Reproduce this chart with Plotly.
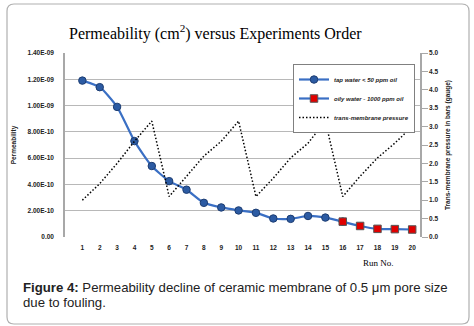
import plotly.graph_objects as go

# Run numbers and measurements
runs_tap = list(range(1, 17))
perm_tap = [1.19e-9, 1.14e-9, 0.99e-9, 7.3e-10, 5.4e-10, 4.25e-10, 3.6e-10, 2.6e-10,
            2.25e-10, 2.02e-10, 1.84e-10, 1.41e-10, 1.38e-10, 1.6e-10, 1.48e-10, 1.17e-10]
runs_oily = [16, 17, 18, 19, 20]
perm_oily = [1.17e-10, 0.84e-10, 0.62e-10, 0.6e-10, 0.57e-10]
runs_all = list(range(1, 21))
tmp_bar = [1.0, 1.45, 2.0, 2.6, 3.15, 1.1, 1.65, 2.2, 2.6, 3.15,
           1.1, 1.6, 2.15, 2.55, 3.15, 1.1, 1.65, 2.15, 2.55, 3.0]

perm_ticks = [0, 2e-10, 4e-10, 6e-10, 8e-10, 1e-9, 1.2e-9, 1.4e-9]
perm_tick_labels = ["0.00", "2.00E-10", "4.00E-10", "6.00E-10", "8.00E-10",
                    "1.00E-09", "1.20E-09", "1.40E-09"]

W, H = 474, 326
L, R, T, B = 65, 54, 53, 89
PW, PH = W - L - R, H - T - B


def px(x):
    return (x - L) / PW


def py(y):
    return (H - B - y) / PH


fig = go.Figure()

fig.add_trace(go.Scatter(
    x=runs_tap, y=perm_tap, name="tap water < 50 ppm oil",
    mode="lines+markers", line=dict(color="#3A6FC4", width=2.2, shape="spline", smoothing=0.6),
    marker=dict(symbol="circle", size=7.5, color="#2C5BA3", line=dict(color="#1D3D72", width=1)),
))
fig.add_trace(go.Scatter(
    x=runs_oily, y=perm_oily, name="oily water - 1000 ppm oil",
    mode="lines+markers", line=dict(color="#3A6FC4", width=2.2, shape="spline", smoothing=0.6),
    marker=dict(symbol="square", size=7.5, color="#E00000", line=dict(color="#555555", width=1)),
))
fig.add_trace(go.Scatter(
    x=runs_all, y=tmp_bar, name="trans-membrane pressure", yaxis="y2",
    mode="lines", line=dict(color="black", width=1.5, dash="1.5px,2px"),
))

tick_font = dict(family="Liberation Sans", size=6.5, color="#222222", weight="bold")

# Rounded frame around the figure
x0, y0, x1, y1, r = 7, 4, 469, 324, 7
frame = (f"M {px(x0 + r)},{py(y0)} L {px(x1 - r)},{py(y0)} "
         f"Q {px(x1)},{py(y0)} {px(x1)},{py(y0 + r)} "
         f"L {px(x1)},{py(y1 - r)} Q {px(x1)},{py(y1)} {px(x1 - r)},{py(y1)} "
         f"L {px(x0 + r)},{py(y1)} Q {px(x0)},{py(y1)} {px(x0)},{py(y1 - r)} "
         f"L {px(x0)},{py(y0 + r)} Q {px(x0)},{py(y0)} {px(x0 + r)},{py(y0)} Z")

caption_font = dict(family="Liberation Sans", size=13.2, color="#222222")

fig.update_layout(
    width=W, height=H,
    margin=dict(l=L, r=R, t=T, b=B),
    paper_bgcolor="white", plot_bgcolor="white",
    showlegend=True,
    legend=dict(x=px(293), y=py(64), xanchor="left", yanchor="top",
                bgcolor="white", bordercolor="#808080", borderwidth=1,
                font=dict(family="Liberation Sans", size=6, color="#222222",
                          weight="bold", style="italic"),
                itemwidth=30, tracegroupgap=0),
    xaxis=dict(range=[0, 20.45], tickvals=runs_all, showgrid=False, zeroline=False,
               showline=False, ticks="outside", ticklen=4, tickcolor="rgba(0,0,0,0)",
               tickfont=tick_font),
    yaxis=dict(range=[0, 1.4e-9], tickvals=perm_ticks, ticktext=perm_tick_labels,
               showgrid=True, gridcolor="#B8B8B8", gridwidth=1, zeroline=False,
               showline=True, linecolor="#A8A8A8", linewidth=1.5,
               ticks="outside", ticklen=8, tickcolor="rgba(0,0,0,0)",
               tickfont=tick_font,
               title=dict(text="Permeability", font=tick_font, standoff=10)),
    yaxis2=dict(range=[0, 5], dtick=0.5, tickformat=".1f", overlaying="y", side="right",
                showgrid=False, zeroline=False, showline=True, linecolor="#A8A8A8",
                linewidth=1.5, ticks="outside", ticklen=6, tickcolor="#A8A8A8",
                tickfont=tick_font,
                title=dict(text="Trans-membrane pressure in bars (gauge)", font=tick_font,
                           standoff=8)),
    shapes=[dict(type="path", xref="paper", yref="paper", path=frame,
                 line=dict(color="#B0B0B0", width=1.2), fillcolor="rgba(0,0,0,0)",
                 layer="below")],
    annotations=[
        dict(text="Permeability (cm<sup>2</sup>) versus Experiments Order",
             xref="paper", yref="paper", x=px(215), y=py(33), yanchor="middle",
             showarrow=False, font=dict(family="Liberation Serif", size=16, color="black")),
        dict(text="Run No.", xref="paper", yref="paper", x=px(396), y=py(263),
             yanchor="middle", showarrow=False,
             font=dict(family="Liberation Serif", size=9, color="black")),
        dict(text="<b>Figure 4:</b> Permeability decline of ceramic membrane of 0.5 μm pore size",
             xref="paper", yref="paper", x=px(21), y=py(287), xanchor="left",
             yanchor="middle", showarrow=False, font=caption_font),
        dict(text="due to fouling.",
             xref="paper", yref="paper", x=px(21), y=py(302), xanchor="left",
             yanchor="middle", showarrow=False, font=caption_font),
    ],
)

fig.write_html("out.html")
